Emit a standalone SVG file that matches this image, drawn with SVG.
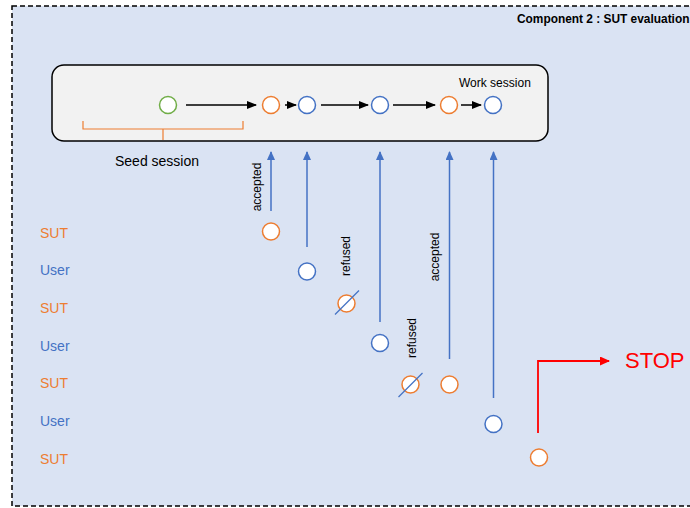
<svg xmlns="http://www.w3.org/2000/svg" width="690" height="508" viewBox="0 0 690 508">
<defs>
<style>
text{font-family:"Liberation Sans",Arial,sans-serif}
.o{fill:#fff;stroke:#ED7D31;stroke-width:1.5}
.b{fill:#fff;stroke:#4472C4;stroke-width:1.5}
.g{fill:#fff;stroke:#70AD47;stroke-width:1.5}
.ka{stroke:#000;stroke-width:1.5;fill:none;marker-end:url(#ak)}
.ba{stroke:#4472C4;stroke-width:1.5;fill:none;marker-end:url(#ab)}
.x{stroke:#4472C4;stroke-width:1.2}
.sut{fill:#ED7D31;font-size:14px}
.usr{fill:#4472C4;font-size:14px}
.lbl{fill:#000;font-size:12px;text-anchor:middle}
</style>
<marker id="ak" markerWidth="10" markerHeight="8" refX="9" refY="4" orient="auto" markerUnits="userSpaceOnUse"><path d="M0,0L10,4L0,8Z" fill="#000"/></marker>
<marker id="ab" markerWidth="9" markerHeight="8" refX="8" refY="4" orient="auto" markerUnits="userSpaceOnUse"><path d="M0,0L9,4L0,8Z" fill="#4472C4"/></marker>
<marker id="ar" markerWidth="10" markerHeight="9" refX="9" refY="4.5" orient="auto" markerUnits="userSpaceOnUse"><path d="M0,0L10,4.5L0,9Z" fill="#FF0000"/></marker>
</defs>
<rect x="0" y="0" width="690" height="508" fill="#fff"/>
<rect id="frame" x="12" y="6" width="690" height="500" fill="#DAE3F3" stroke="#000" stroke-width="1.5" stroke-dasharray="5,3"/>
<text x="517" y="23" font-size="11.9" font-weight="bold" fill="#000">Component 2 : SUT evaluation</text>
<g id="work-session">
<rect x="52" y="65" width="496" height="76" rx="12" fill="#F2F2F2" stroke="#000" stroke-width="1.5"/>
<text x="459" y="87" font-size="12" fill="#000">Work session</text>
</g>
<g id="seed-session">
<path d="M83,121V129H243V121M163,129V140" fill="none" stroke="#ED7D31" stroke-width="1.2"/>
<text x="115" y="166" font-size="14" fill="#000">Seed session</text>
</g>
<g id="s0"><circle class="g" cx="168" cy="105" r="8.5"/></g>
<g id="s1"><circle class="o" cx="271" cy="105" r="8.5"/></g>
<g id="s2"><circle class="b" cx="307" cy="105" r="8.5"/></g>
<g id="s3"><circle class="b" cx="380" cy="105" r="8.5"/></g>
<g id="s4"><circle class="o" cx="449" cy="105" r="8.5"/></g>
<g id="s5"><circle class="b" cx="493" cy="105" r="8.5"/></g>
<g id="labels">
<text class="sut" x="40" y="238">SUT</text>
<text class="usr" x="40" y="275">User</text>
<text class="sut" x="40" y="313">SUT</text>
<text class="usr" x="40" y="351">User</text>
<text class="sut" x="40" y="388">SUT</text>
<text class="usr" x="40" y="426">User</text>
<text class="sut" x="40" y="464">SUT</text>
</g>
<g id="t1"><circle class="o" cx="271" cy="231.5" r="8.5"/></g>
<g id="t2"><circle class="b" cx="307" cy="271.5" r="8.5"/></g>
<g id="t3"><circle class="o" cx="346.5" cy="303.5" r="8.5"/><line class="x" x1="335" y1="314.5" x2="359" y2="290.5"/></g>
<g id="t4"><circle class="b" cx="380" cy="343" r="8.5"/></g>
<g id="t5"><circle class="o" cx="410.5" cy="384.5" r="8.5"/><line class="x" x1="398.5" y1="397" x2="422.5" y2="373"/></g>
<g id="t6"><circle class="o" cx="449.5" cy="384.5" r="8.5"/></g>
<g id="t7"><circle class="b" cx="493.5" cy="424" r="8.5"/></g>
<g id="t8"><circle class="o" cx="539" cy="457.5" r="8.5"/></g>
<g id="stop"><text x="625" y="368" font-size="22" fill="#FF0000">STOP</text></g>
<g id="connectors">
<line class="ka" x1="186" y1="105" x2="256" y2="105"/>
<line class="ka" x1="285" y1="105" x2="296" y2="105"/>
<line class="ka" x1="321" y1="105" x2="368" y2="105"/>
<line class="ka" x1="393" y1="105" x2="435" y2="105"/>
<line class="ka" x1="461" y1="105" x2="481" y2="105"/>
<line class="ba" x1="271" y1="211" x2="271" y2="152"/>
<line class="ba" x1="307" y1="247" x2="307" y2="152"/>
<line class="ba" x1="380" y1="322" x2="380" y2="152"/>
<line class="ba" x1="449.5" y1="359" x2="449.5" y2="152"/>
<line class="ba" x1="493.5" y1="398" x2="493.5" y2="152"/>
<path d="M538,433V361H609" fill="none" stroke="#FF0000" stroke-width="1.8" marker-end="url(#ar)"/>
<text class="lbl" transform="translate(261,187) rotate(-90)">accepted</text>
<text class="lbl" transform="translate(350,256) rotate(-90)">refused</text>
<text class="lbl" transform="translate(439,257) rotate(-90)">accepted</text>
<text class="lbl" transform="translate(416,338) rotate(-90)">refused</text>
</g>
</svg>
